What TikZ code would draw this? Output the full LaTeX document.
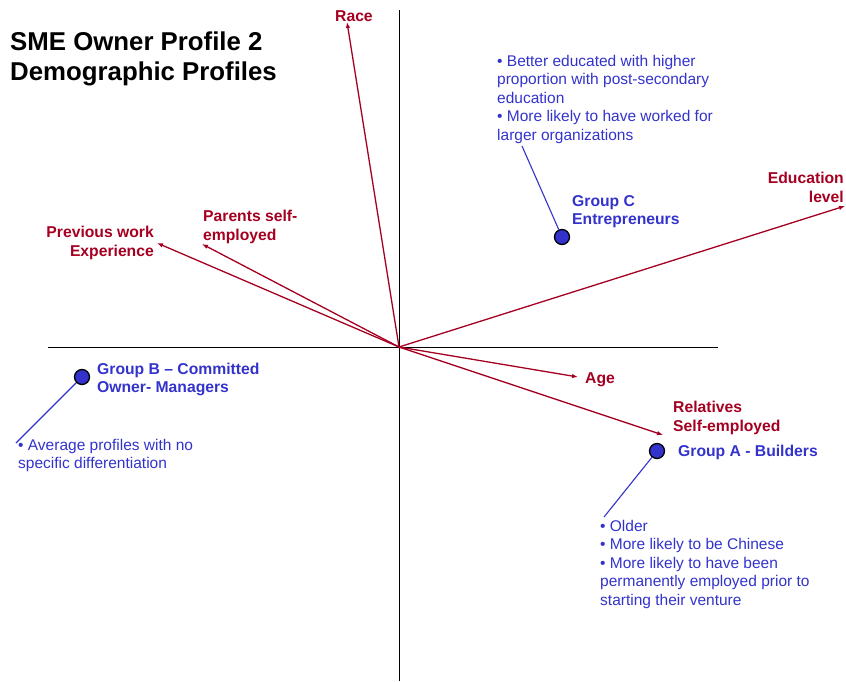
\documentclass[tikz,border=0pt]{standalone}
\usepackage{fontspec}
\setmainfont{Liberation Sans}
\usetikzlibrary{arrows.meta}
\definecolor{factorred}{HTML}{A50021}
\definecolor{groupblue}{HTML}{3333CC}
\tikzset{
  axis/.style={black, line width=1pt},
  factor/.style={factorred, line width=1.3pt, -{Latex[length=6pt,width=4.5pt]}},
  factorlabel/.style={text=factorred, inner sep=0pt, font={\fontsize{15.7}{18.5}\selectfont\bfseries}},
  grouplabel/.style={text=groupblue, inner sep=0pt, align=left, font={\fontsize{15.7}{18}\selectfont\bfseries}},
  groupnote/.style={text=groupblue, inner sep=0pt, align=left, font={\fontsize{15.5}{18.4}\selectfont}},
  leader/.style={groupblue, line width=1.1pt},
  groupdot/.style={circle, fill=groupblue, draw=black, line width=1.3pt, minimum size=15pt, inner sep=0pt}
}
\begin{document}
\begin{tikzpicture}[x=1pt,y=-1pt]
\useasboundingbox (0,0) rectangle (846,681);

% title
\node[anchor=north west, inner sep=0pt, align=left,
      font={\fontsize{25.8}{30}\selectfont\bfseries}] (title) at (10,32)
  {SME Owner Profile 2\\Demographic Profiles};

% axes
\coordinate (O) at (399,347);
\coordinate (xl) at (48,347);
\coordinate (xr) at (718,347);
\coordinate (yt) at (399,10);
\coordinate (yb) at (399,681);
\draw[axis] (xl) -- (xr);
\draw[axis] (yt) -- (yb);

% factor vectors
\coordinate (race) at (347,22);
\coordinate (parents) at (202,244);
\coordinate (prevwork) at (157,243);
\coordinate (educ) at (845,206);
\coordinate (age) at (578,377);
\coordinate (relatives) at (663,435);
\foreach \t in {race,parents,prevwork,educ,age,relatives}
  \draw[factor] (O) -- (\t);

% factor labels
\node[factorlabel, anchor=north west] (lrace) at (335,10) {Race};
\node[factorlabel, anchor=north west, align=left] (lparents) at (203,210) {Parents self-\\employed};
\node[factorlabel, anchor=north east, align=right] (lprev) at (154,226) {Previous work\\Experience};
\node[factorlabel, anchor=north east, align=right] (leduc) at (844,172) {Education\\level};
\node[factorlabel, anchor=north west] (lage) at (585,372) {Age};
\node[factorlabel, anchor=north west, align=left] (lrel) at (673,401) {Relatives\\Self-employed};

% group C
\node[groupdot] (dotC) at (562,237) {};
\node[grouplabel, anchor=north west] (labC) at (572,195) {Group C\\Entrepreneurs};
\node[groupnote, anchor=north west] (noteC) at (497,55)
  {\textbullet\ Better educated with higher\\proportion with post-secondary\\education\\\textbullet\ More likely to have worked for\\larger organizations};
\coordinate (endC) at (522,146);
\draw[leader] (dotC) -- (endC);

% group B
\node[groupdot] (dotB) at (82,377) {};
\node[grouplabel, anchor=north west] (labB) at (97,363) {Group B -- Committed\\Owner- Managers};
\node[groupnote, anchor=north west] (noteB) at (18,439)
  {\textbullet\ Average profiles with no\\specific differentiation};
\coordinate (endB) at (16,443);
\draw[leader] (dotB) -- (endB);

% group A
\node[groupdot] (dotA) at (657,451) {};
\node[grouplabel, anchor=north west] (labA) at (678,445) {Group A - Builders};
\node[groupnote, anchor=north west] (noteA) at (600,520)
  {\textbullet\ Older\\\textbullet\ More likely to be Chinese\\\textbullet\ More likely to have been\\permanently employed prior to\\starting their venture};
\coordinate (endA) at (604,517);
\draw[leader] (dotA) -- (endA);
\end{tikzpicture}
\end{document}
